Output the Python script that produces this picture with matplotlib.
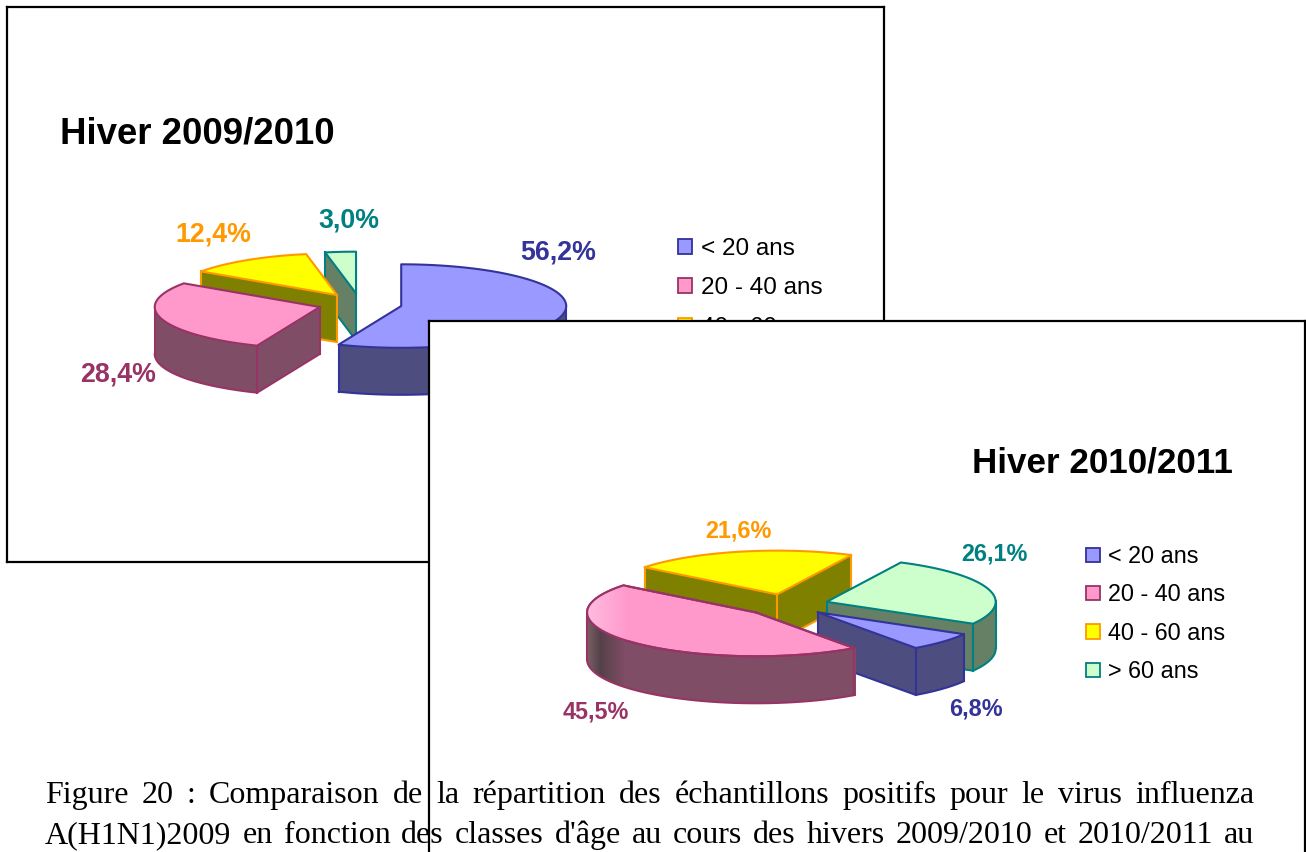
import matplotlib
matplotlib.use("Agg")
import matplotlib.pyplot as plt
import numpy as np
from matplotlib.colors import LinearSegmentedColormap, to_rgb
from matplotlib.patches import Patch, Polygon

W, H = 1306, 852

age_classes = ["< 20 ans", "20 - 40 ans", "40 - 60 ans", "> 60 ans"]
values_2009 = [56.2, 28.4, 12.4, 3.0]
values_2010 = [6.8, 45.5, 21.6, 26.1]
labels_2009 = ["56,2%", "28,4%", "12,4%", "3,0%"]
labels_2010 = ["6,8%", "45,5%", "21,6%", "26,1%"]
title_2009 = "Hiver 2009/2010"
title_2010 = "Hiver 2010/2011"
caption_lines = [
    "Figure 20 : Comparaison de la répartition des échantillons positifs pour le virus influenza",
    "A(H1N1)2009 en fonction des classes d'âge au cours des hivers 2009/2010 et 2010/2011 au",
]

top_colors = ["#9999FF", "#FF99CC", "#FFFF00", "#CCFFCC"]
wall_colors = ["#4D4D80", "#804D66", "#808000", "#668066"]
edge_colors = ["#333399", "#993366", "#FF9900", "#008080"]

plt.rcParams['font.family'] = ['Liberation Sans', 'DejaVu Sans']

LW = 1.5


def make_panel(x0, y0, x1, y1, z):
    # axes whose data units are the pixels of the figure
    ax = plt.figure(1).add_axes([x0 / W, 1 - y1 / H, (x1 - x0) / W, (y1 - y0) / H])
    ax.set_zorder(z)
    ax.set_xticks([])
    ax.set_yticks([])
    for s in ax.spines.values():
        s.set_linewidth(1.6)
    return ax


def slice_outline(cx, cy, a, ratio, explode, t0, t1):
    mid = np.radians((t0 + t1) / 2)
    px = cx + explode * np.sin(mid)
    py = cy - explode * np.cos(mid) * ratio
    t = np.radians(np.linspace(t0, t1, max(int((t1 - t0) / 2), 2) + 1))
    xs = np.concatenate([[px], px + a * np.sin(t)])
    ys = np.concatenate([[py], py - a * ratio * np.cos(t)])
    return xs, ys


def wall_shade(x, base, grad):
    if grad is None:
        return base
    stops_x, stops_c = grad
    rgb = [to_rgb(c) for c in stops_c]
    return tuple(np.interp(x, stops_x, [c[i] for c in rgb]) for i in range(3))


def draw_slice(ax, xs, ys, depth, i, z, wall_grad=None, top_grad=None):
    n = len(xs)
    vis = [xs[(k + 1) % n] - xs[k] < -1e-6 for k in range(n)]
    base = to_rgb(wall_colors[i])

    # walls: straight radial faces and the rim, one polygon per face
    rim = [k for k in range(1, n - 1) if vis[k]]
    faces = [[k] for k in (0, n - 1) if vis[k]]
    if rim:
        faces.insert(1 if vis[0] else 0, rim)
    for face in faces:
        idx = face + [(face[-1] + 1) % n]
        fx, fy = xs[idx], ys[idx]
        if wall_grad is None:
            ax.fill(np.r_[fx, fx[::-1]], np.r_[fy, fy[::-1] + depth],
                    facecolor=base, edgecolor='none', zorder=z)
        else:
            # strips of one colour each, in 1 px steps so no seams show
            strip_x = np.arange(fx.min(), fx.max() + 1)
            order = np.argsort(fx)
            strip_y = np.interp(strip_x, fx[order], fy[order])
            for k in range(len(strip_x) - 1):
                col = wall_shade(strip_x[k], base, wall_grad)
                ax.fill([strip_x[k], strip_x[k + 1] + 0.6, strip_x[k + 1] + 0.6, strip_x[k]],
                        [strip_y[k], strip_y[k + 1], strip_y[k + 1] + depth, strip_y[k] + depth],
                        facecolor=col, edgecolor='none', antialiased=False, zorder=z)
        ax.plot(fx, fy + depth, color=edge_colors[i], lw=LW, zorder=z + 0.1,
                solid_capstyle='round')
    for k in range(n):
        before = vis[(k - 1) % n]
        if (k in (0, 1, n - 1) and (before or vis[k])) or before != vis[k]:
            ax.plot([xs[k], xs[k]], [ys[k], ys[k] + depth],
                    color=edge_colors[i], lw=LW, zorder=z + 0.1)

    top = Polygon(np.column_stack([xs, ys]), closed=True, facecolor=top_colors[i],
                  edgecolor=edge_colors[i], lw=LW, joinstyle='round', zorder=z + 0.2)
    ax.add_patch(top)
    if top_grad is not None:
        x0, x1, c0, c1 = top_grad
        cmap = LinearSegmentedColormap.from_list("g", [c0, c1])
        img = ax.imshow(np.linspace(0, 1, 64)[None, :], cmap=cmap, aspect='auto',
                        extent=[x0, x1, ys.max(), ys.min()], zorder=z + 0.3)
        img.set_clip_path(Polygon(np.column_stack([xs, ys]), closed=True,
                                  transform=ax.transData))
        ax.plot(np.append(xs, xs[0]), np.append(ys, ys[0]), color=edge_colors[i],
                lw=LW, zorder=z + 0.4)


def draw_pie(ax, values, first, cx, cy, a, ratio, explode, depth, order, grads=None):
    edges = first + np.cumsum([0] + list(values)) * 360.0 / sum(values)
    for z, i in enumerate(order):
        xs, ys = slice_outline(cx, cy, a, ratio, explode, edges[i], edges[i + 1])
        g = (grads or {}).get(i, {})
        draw_slice(ax, xs, ys, depth, i, 3 + z, **g)


def put_labels(ax, labels, spots, size):
    for i, (txt, (x, y)) in enumerate(zip(labels, spots)):
        ax.text(x, y, txt, color=edge_colors[i], fontsize=size, fontweight='bold',
                ha='center', va='center', zorder=20)


def put_legend(ax, x, y, size, spacing):
    handles = [Patch(facecolor=top_colors[i], edgecolor=edge_colors[i], lw=1.3)
               for i in range(4)]
    ax.legend(handles, age_classes, loc='upper left', bbox_to_anchor=(x, y),
              bbox_transform=ax.transData, frameon=False, fontsize=size,
              handlelength=0.58, handleheight=0.58, handletextpad=0.36,
              labelspacing=spacing, borderpad=0, borderaxespad=0)


def justified(fig, line, x0, x1, baseline, size):
    words = line.split(" ")
    items = [fig.text(0, 1 - baseline / H, w, fontsize=size, family='Liberation Serif',
                      va='baseline', ha='left', zorder=10) for w in words]
    rend = fig.canvas.get_renderer()
    widths = [t.get_window_extent(rend).width for t in items]
    gap = (x1 - x0 - sum(widths)) / (len(words) - 1)
    x = x0
    for t, wd in zip(items, widths):
        t.set_x(x / W)
        x += wd + gap


fig = plt.figure(1, figsize=(W / 100, H / 100), dpi=100, facecolor='white')

ax1 = make_panel(7, 7, 884, 562, 1)
draw_pie(ax1, values_2009, 0, 360, 304, 165, 0.253, 42, 47, [3, 2, 1, 0])
ax1.set_xlim(7, 884)
ax1.set_ylim(562, 7)
put_labels(ax1, labels_2009, [(558, 252), (118, 374), (213, 235), (349, 221)], 19.3)
ax1.text(60, 134, title_2009, fontsize=26.4, fontweight='bold', va='center', ha='left')
put_legend(ax1, 678, 238, 17.5, 0.72)

ax2 = make_panel(429, 321, 1305, 870, 2)
pink_wall = ([587, 600, 625], ["#7A6066", "#544048", "#804D66"])
pink_top = (587, 628, "#FFBCE0", "#FF99CC")
draw_pie(ax2, values_2010, 120, 786.5, 605, 169, 0.259, 42, 47, [2, 3, 0, 1],
         grads={1: {"wall_grad": pink_wall, "top_grad": pink_top}})
ax2.set_xlim(429, 1305)
ax2.set_ylim(870, 321)
put_labels(ax2, labels_2010, [(976, 709), (596, 712), (738, 531), (994, 554)], 16.8)
ax2.text(972, 463, title_2010, fontsize=25.2, fontweight='bold', va='center', ha='left')
put_legend(ax2, 1086, 545, 16.8, 0.66)

justified(fig, caption_lines[0], 45, 1254, 803, 23)
justified(fig, caption_lines[1], 45, 1254, 843, 23)

fig.savefig("out.png", dpi=100)
